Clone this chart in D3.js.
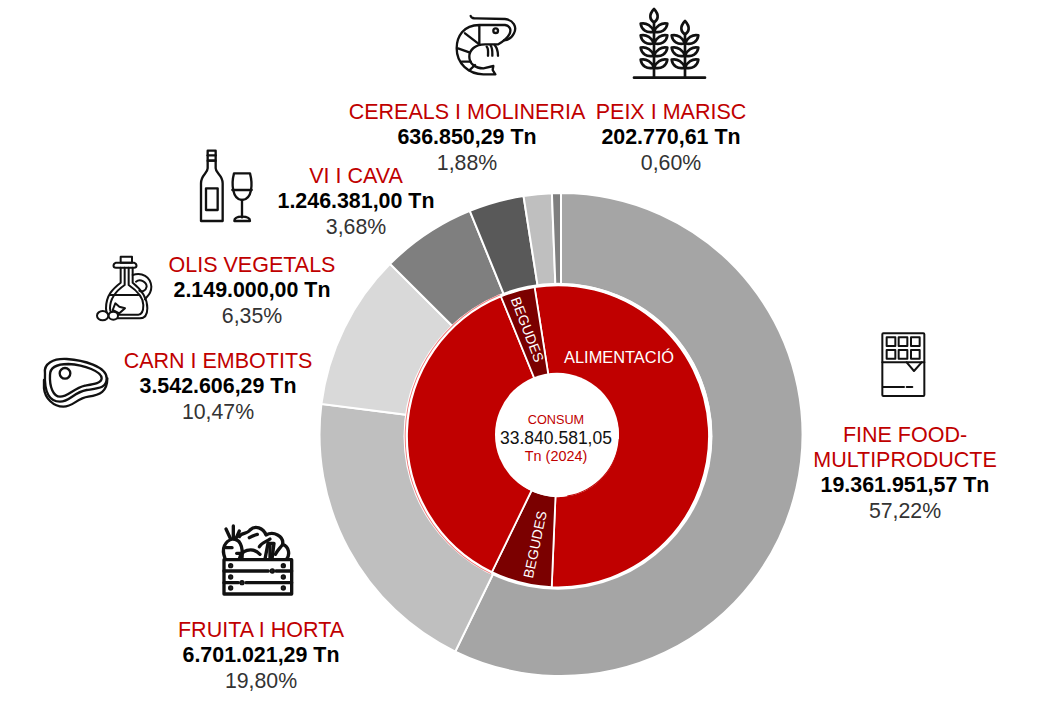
<!DOCTYPE html>
<html>
<head>
<meta charset="utf-8">
<script src="https://cdn.jsdelivr.net/npm/d3@7"></script>
<style>
  html, body { margin: 0; padding: 0; background: #fff; }
  svg { display: block; }
  text { font-family: "Liberation Sans", Arial, sans-serif; text-anchor: middle; }
  .icon { fill: none; stroke: #111; stroke-linecap: round; stroke-linejoin: round; }
</style>
</head>
<body>
<svg id="chart" width="1057" height="717"></svg>
<script>
// outer ring: tonnes per product family
const products = ["FINE FOOD-\nMULTIPRODUCTE", "FRUITA I HORTA", "CARN I EMBOTITS", "OLIS VEGETALS", "VI I CAVA", "CEREALS I MOLINERIA", "PEIX I MARISC"];
const tonnes = [19361951.57, 6701021.29, 3542606.29, 2149000.0, 1246381.0, 636850.29, 202770.61];
const greys = ["#a5a5a5", "#bfbfbf", "#d9d9d9", "#7f7f7f", "#595959", "#bfbfbf", "#7f7f7f"];

const groups = ["ALIMENTACIÓ", "BEGUDES", "ALIMENTACIÓ", "BEGUDES"];
const groupTonnes = [17985000, 2216572.47, 12392627.58, 1246381.0];
const groupColors = ["#c00000", "#7b0000", "#c00000", "#7b0000"];

// where each block of label text sits (centre x, first baseline)
const labelPos = [[905, 442], [261, 637], [218, 368], [252, 272], [356, 183], [467, 119], [671, 119]];

const cx = 561, cy = 434.5, cxIn = 558, cyIn = 436.3;
const total = d3.sum(tonnes);
const ca = d3.formatLocale({ decimal: ",", thousands: ".", grouping: [3], currency: ["", ""] });
const fmtTn = ca.format(",.2f");

const svg = d3.select("#chart");

// outer ring
const outerPie = d3.pie().sort(null).value(d => d);
const outerArc = d3.arc().innerRadius(150).outerRadius(241.5);
svg.append("g")
    .attr("transform", `translate(${cx},${cy})`)
    .selectAll("path")
    .data(outerPie(tonnes))
    .join("path")
    .attr("d", outerArc)
    .attr("fill", (d, i) => greys[i])
    .attr("stroke", "#fff")
    .attr("stroke-width", 2);

// inner ring starts where Vi i Cava ends
const startA = -(tonnes[5] + tonnes[6]) / total * 2 * Math.PI;
const innerPie = d3.pie().sort(null).value(d => d).startAngle(startA).endAngle(startA + 2 * Math.PI);
const innerArc = d3.arc().innerRadius(60).outerRadius(151);
const inner = svg.append("g").attr("transform", `translate(${cxIn},${cyIn})`);
inner.append("ellipse").attr("rx", 154.5).attr("ry", 153.5).attr("fill", "#fff");

const innerSlices = innerPie(groupTonnes);

// thin sliver round the left slice and the hole, the two layers don't line up
inner.append("path")
    .attr("d", d3.arc().innerRadius(152.3).outerRadius(153.3)({ startAngle: innerSlices[2].startAngle, endAngle: innerSlices[2].endAngle }))
    .attr("fill", "#f08080");

inner.selectAll("path.slice")
    .data(innerSlices)
    .join("path")
    .attr("class", "slice")
    .attr("d", innerArc)
    .attr("fill", (d, i) => groupColors[i])
    .attr("stroke", "#fff")
    .attr("stroke-width", 1.8);

const hole = svg.append("g").attr("transform", "translate(557,434.7)");
hole.append("circle").attr("r", 62).attr("fill", "#fff");
hole.append("path")
    .attr("d", d3.arc().innerRadius(61.2).outerRadius(62.2)({ startAngle: Math.PI * 0.52, endAngle: Math.PI * 0.95 }))
    .attr("transform", "translate(0.6,0.4)")
    .attr("fill", "#c00000");

// ring and centre labels
svg.append("text").attr("x", 619).attr("y", 363).attr("fill", "#fff").attr("font-size", 16.4).text(groups[0]);
svg.append("text").attr("transform", "translate(527.5,329.5) rotate(69)").attr("dy", 5).attr("fill", "#fff").attr("font-size", 14).text(groups[1]);
svg.append("text").attr("transform", "translate(535,544.5) rotate(-78)").attr("dy", 5).attr("fill", "#fff").attr("font-size", 14).text(groups[3]);

svg.append("text").attr("x", 556).attr("y", 424).attr("fill", "#c00000").attr("font-size", 12.7).text("CONSUM");
svg.append("text").attr("x", 556).attr("y", 444).attr("fill", "#111").attr("font-size", 17.5).text(fmtTn(total));
svg.append("text").attr("x", 556).attr("y", 461).attr("fill", "#c00000").attr("font-size", 14.4).text("Tn (2024)");

// product labels
products.forEach((name, i) => {
    const [x, y0] = labelPos[i];
    const lines = name.split("\n");
    const g = svg.append("g");
    lines.forEach((l, j) => {
        g.append("text").attr("x", x).attr("y", y0 + j * 25).attr("fill", "#c00000").attr("font-size", 21.5).text(l);
    });
    const y1 = y0 + lines.length * 25;
    g.append("text").attr("x", x).attr("y", y1).attr("fill", "#000").attr("font-size", 21.4).attr("font-weight", "bold").text(fmtTn(tonnes[i]) + " Tn");
    g.append("text").attr("x", x).attr("y", y1 + 25.5).attr("fill", "#333").attr("font-size", 21.3).text(ca.format(",.2f")(tonnes[i] / total * 100) + "%");
});

// icons, drawn at 3x and scaled down
function icon(ox, oy, sw) {
    return svg.append("g").attr("class", "icon")
        .attr("transform", `translate(${ox},${oy}) scale(${1 / 3})`)
        .attr("stroke-width", sw);
}

const shrimp = icon(430, 5, 7);
[
    "M122 33C124 40 130 40 140 40L225 42C250 45 262 65 252 85C245 100 235 105 222 106",
    "M148 60H225C240 62 245 75 238 88C232 100 222 108 205 118H165C135 118 118 135 118 155C118 175 135 190 160 190L190 183L188 195L196 208H160C115 208 80 175 80 130C80 95 100 60 148 60V118",
    "M105 85L148 118", "M84 130L118 142", "M95 170L122 170", "M118 196L135 180",
    "M170 125C176 130 174 142 174 152", "M182 122C188 130 187 142 187 152", "M194 120C202 130 204 142 204 152"
].forEach(d => shrimp.append("path").attr("d", d));
shrimp.append("circle").attr("cx", 197).attr("cy", 77).attr("r", 7);

const wheat = icon(430, 5, 8);
wheat.append("path").attr("d", "M612 218H825");
function stalk(x, top, ys, w) {
    wheat.append("path").attr("d", `M${x} 218V${top + 40}`);
    wheat.append("path").attr("d", `M${x} ${top}C${x - 17} ${top + 18} ${x - 12} ${top + 33} ${x} ${top + 40}C${x + 12} ${top + 33} ${x + 17} ${top + 18} ${x} ${top}Z`);
    ys.forEach(y => {
        [-1, 1].forEach(s => {
            wheat.append("path").attr("d", `M${x} ${y}C${x + s * 6} ${y - 16} ${x + s * w * 0.55} ${y - 28} ${x + s * w} ${y - 24}C${x + s * w * 0.95} ${y - 6} ${x + s * w * 0.55} ${y + 6} ${x} ${y}Z`);
        });
    });
}
stalk(672, 12, [80, 115, 152, 188], 40);
stalk(765, 48, [115, 152, 188], 40);

const wine = icon(30, 140, 7);
[
    "M533 62V85C533 100 513 105 513 130V243H578V130C578 105 557 100 557 85V62Z",
    "M533 32H557V62H533Z", "M533 46H557", "M528 145H563V210H528Z",
    "M612 100H660C668 130 668 178 636 180C606 178 604 130 612 100Z", "M607 150H665", "M636 180V232",
    "M613 243C613 232 625 230 636 230C647 230 660 232 660 243Z"
].forEach(d => wine.append("path").attr("d", d));

const oil = icon(30, 140, 6);
[
    "M272 350H306V368H272Z", "M258 368H312C322 372 322 383 312 383H258C248 383 248 372 258 368Z",
    "M272 383V428C250 445 228 465 228 505C228 525 240 535 255 535H330C345 535 352 525 352 505C352 470 330 445 308 428V383",
    "M284 383V435C262 450 240 470 240 505C240 518 248 524 258 524H325C335 524 340 515 340 495C340 470 318 450 296 435V383",
    "M308 405C335 395 362 410 364 440C364 465 348 470 345 478", "M318 425C330 415 350 425 350 440C348 452 335 458 328 452",
    "M240 465H325", "M248 510L256 490L268 500L285 505L268 520Z"
].forEach(d => oil.append("path").attr("d", d));
oil.append("ellipse").attr("cx", 218).attr("cy", 527).attr("rx", 17).attr("ry", 14).attr("fill", "#fff");
oil.append("ellipse").attr("cx", 250).attr("cy", 527).attr("rx", 14).attr("ry", 12).attr("fill", "#fff");

const meat = icon(30, 140, 7);
[
    "M45 700C40 670 70 655 110 657C160 660 230 680 230 715C230 745 205 745 170 750C130 757 120 785 90 785C60 785 42 760 45 700Z",
    "M42 720V745C45 775 70 800 100 800C130 800 140 775 175 770C210 765 232 755 232 715",
    "M60 705C60 680 85 672 115 672C165 675 215 695 215 715C215 730 190 733 165 737C130 745 115 770 90 770C70 770 58 740 60 705Z"
].forEach(d => meat.append("path").attr("d", d));
meat.append("circle").attr("cx", 105).attr("cy", 700).attr("r", 16);

const choc = icon(860, 320, 6);
choc.append("rect").attr("x", 67).attr("y", 40).attr("width", 126).attr("height", 188).attr("rx", 3);
[80, 116, 153].forEach(x => [52, 90].forEach(y => {
    choc.append("rect").attr("x", x).attr("y", y).attr("width", 26).attr("height", 26);
}));
["M67 127H193", "M140 127L162 153L185 127", "M70 201H132", "M140 201H157"].forEach(d => choc.append("path").attr("d", d));

const crate = icon(210, 515, 10);
crate.append("rect").attr("x", 42).attr("y", 134).attr("width", 203).attr("height", 103);
[
    "M42 168H175M198 168H245", "M42 203H85M108 203H245",
    "M45 130C33 100 45 78 68 72C88 72 100 90 96 130", "M62 72L48 42", "M70 70V33", "M78 70L88 48", "M48 98H66", "M80 115H94",
    "M88 65C92 52 112 58 120 45C135 30 160 38 168 60C190 48 222 62 218 88C238 95 240 120 230 132",
    "M88 132C92 108 125 92 150 118", "M118 68C128 62 135 60 142 58", "M148 95C155 82 170 80 180 72",
    "M165 132L174 85H192L186 132", "M180 88V132", "M196 118C205 102 210 100 218 88"
].forEach(d => crate.append("path").attr("d", d));
crate.selectAll("circle.nail")
    .data([[62, 152], [220, 152], [62, 186], [220, 186], [62, 219], [220, 219], [187, 168], [96, 203]])
    .join("circle")
    .attr("cx", d => d[0]).attr("cy", d => d[1]).attr("r", 3).attr("fill", "#111");
</script>
</body>
</html>
